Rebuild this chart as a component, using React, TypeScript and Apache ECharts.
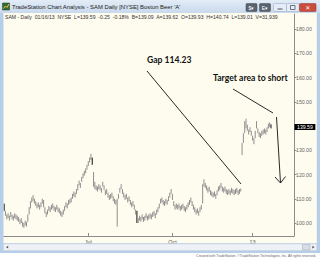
import React, { useEffect, useRef } from "react";
import * as echarts from "echarts";

// Daily bar ranges (low / high), SAM, Apr 2012 – Jan 16 2013
const lows = [
  105, 103, 101.5, 102, 101, 102.5, 101.5, 101, 102, 101.5, 101, 100.5, 99.5, 100, 98.5, 98, 99, 98.5, 100.5, 103.5,
  106, 108.5, 109, 108, 107, 106, 106.5, 105.5, 106.5, 108, 106.5, 104, 102.5, 103.5, 105, 104.5, 105.5, 106, 105, 104.5,
  105.5, 104.5, 104, 103, 102.5, 103.5, 105, 106.5, 106, 107.5, 108, 108.5, 110, 111, 110.5, 112, 113.5, 115.5, 114.5, 117,
  118.5, 119.5, 120.5, 122, 123.5, 125, 126, 124, 115, 114, 113.5, 113, 114, 113.5, 112.5, 115, 113.5, 111.5, 112, 110.5,
  109.5, 110, 110.5, 109, 108, 107.5, 98.5, 110, 112.5, 114, 112, 110.5, 109.5, 110, 108.5, 109, 107.5, 106.5, 107, 105.5,
  103.5, 100, 100, 101, 100.5, 101.5, 100.5, 101, 102, 101, 101.5, 102, 101.5, 102.5, 103, 102, 103.5, 104.5, 106, 108,
  108.5, 107.5, 107, 108, 107.5, 109, 110.5, 112, 109.5, 107, 105.5, 106, 105.5, 106, 105, 105.5, 106, 105, 104.5, 105.5,
  106.5, 107.5, 108.5, 107, 105.5, 104.5, 103.5, 104, 103, 104.5, 105.5, 108, 115, 114.5, 113.5, 112.5, 113, 111.5, 111, 110.5,
  111, 110, 111.5, 113, 113.5, 114.5, 113, 112.5, 113, 112, 111.5, 112, 111.5, 112.5, 112, 111.5, 112, 112.5, 111.5, 112,
  113, 128, 133, 137, 139, 138, 136.5, 137.5, 136, 134, 132.5, 135, 139, 137, 135.5, 135, 136, 136.5, 137, 136.5,
  137.5, 139, 139.5, 139
];
const highs = [
  108, 105, 103.5, 104, 103, 104.5, 103.5, 103, 104, 103.5, 103, 102.5, 101.5, 102, 100.5, 100, 101, 100.5, 103.5, 106.5,
  109, 110.5, 111.5, 110, 109, 108, 108.5, 107.5, 108.5, 110, 109.5, 106.5, 104.5, 105.5, 107, 106.5, 107.5, 108, 107, 106.5,
  107.5, 106.5, 106, 105, 104.5, 105.5, 107, 108.5, 108, 109.5, 110, 110.5, 112, 113, 112.5, 114, 116, 117.5, 116.5, 119,
  120.5, 121.5, 122.5, 124, 125.5, 127, 128.5, 127, 121, 117, 115.5, 115, 116, 115.5, 114.5, 117, 115.5, 113.5, 114, 112.5,
  111.5, 112, 112.5, 111, 110, 109.5, 110, 112, 114.5, 116, 114, 112.5, 111.5, 112, 110.5, 111, 109.5, 108.5, 109, 107.5,
  105.5, 105, 102, 103, 102.5, 103.5, 102.5, 103, 104, 103, 103.5, 104, 103.5, 104.5, 105, 104, 105.5, 106.5, 108, 110,
  110.5, 109.5, 109, 110, 109.5, 111, 112.5, 114, 112, 109, 107.5, 108, 107.5, 108, 107, 107.5, 108, 107, 106.5, 107.5,
  108.5, 109.5, 110.5, 109, 107.5, 106.5, 105.5, 106, 105, 106.5, 107.5, 116, 118, 116.5, 115.5, 114.5, 115, 113.5, 113, 112.5,
  113, 112, 113.5, 115, 115.5, 116.5, 115, 114.5, 115, 114, 113.5, 114, 113.5, 114.5, 114, 113.5, 114, 114.5, 113.5, 114,
  114.23, 133, 137, 142, 143, 140.5, 138.5, 139.5, 138, 136, 135, 138, 142, 139, 137.5, 137, 138, 138.5, 139, 138.5,
  139.5, 141, 141.5, 140.7
];
const blackBars = [0, 67, 101, 203];
const lastPrice = 139.59;

const tickLabels = ["Jul", "Oct", "13"];
const tickIndex = [64, 128, 189];
const slotCount = 221;

const titleText = "TradeStation Chart Analysis - SAM Daily [NYSE] Boston Beer 'A'";
const quoteText =
  "SAM - Daily  01/16/13  NYSE  L=139.59  -0.25  -0.18%  B=139.09  A=139.62  O=139.93  H=140.74  L=139.01  V=31,939";
const footerText = "Created with TradeStation. \u00A9TradeStation Technologies, Inc. All rights reserved.";
const gapText = "Gap 114.23";
const targetText = "Target area to short";

const CREAM = "#FEFCEF";
const FRAME = "#B7CEE9";
const SANS = "'Liberation Sans', Arial, sans-serif";

export default function App() {
  const ref = useRef<HTMLDivElement>(null);

  useEffect(() => {
    document.body.style.margin = "0";
    const chart = echarts.init(ref.current!, null, { renderer: "svg" });

    const xLabels = Array.from({ length: slotCount }, (_, i) => {
      const k = tickIndex.indexOf(i);
      return k >= 0 ? tickLabels[k] : "";
    });
    const barData = lows.map((l, i) => [i, l, highs[i]]);

    const black = "#111";
    const graphics: any[] = [
      { type: "rect", z: 50, shape: { x: 0, y: 0, width: 3.5, height: 253 }, style: { fill: FRAME } },
      { type: "rect", z: 50, shape: { x: 316.8, y: 0, width: 3.2, height: 253 }, style: { fill: FRAME } },
      {
        type: "rect", z: 50, shape: { x: 0, y: 0, width: 320, height: 13 },
        style: {
          fill: { type: "linear", x: 0, y: 0, x2: 0, y2: 1, colorStops: [{ offset: 0, color: "#E3ECF7" }, { offset: 1, color: "#C9D9EC" }] },
        },
      },
      { type: "rect", z: 51, shape: { x: 2.5, y: 3, width: 7, height: 7 }, style: { fill: "#2F6B3A", stroke: "#1D3F22", lineWidth: 0.5 } },
      { type: "polyline", z: 52, shape: { points: [[3.5, 8.5], [5.5, 6], [7, 7.5], [9, 4]] }, style: { stroke: "#F2C230", lineWidth: 1, fill: null } },
      { type: "text", z: 52, style: { x: 12, y: 7, text: titleText, fontSize: 5.9, fontFamily: SANS, fill: "#222", verticalAlign: "middle" } },
      { type: "rect", z: 51, shape: { x: 246, y: 3.5, width: 11, height: 8, r: 1 }, style: { fill: "#59636F", stroke: "#3E454E", lineWidth: 0.5 } },
      { type: "text", z: 52, style: { x: 251.5, y: 7.6, text: "$▾", fontSize: 5, fontFamily: SANS, fill: "#fff", align: "center", verticalAlign: "middle" } },
      { type: "rect", z: 51, shape: { x: 259.5, y: 3.5, width: 11, height: 8, r: 1 }, style: { fill: "#59636F", stroke: "#3E454E", lineWidth: 0.5 } },
      { type: "text", z: 52, style: { x: 265, y: 7.6, text: "E▾", fontSize: 5, fontFamily: SANS, fill: "#fff", align: "center", verticalAlign: "middle" } },
      { type: "rect", z: 51, shape: { x: 273.5, y: 3.5, width: 13, height: 8, r: 1 }, style: { fill: "#E6EDF6", stroke: "#8EA2BC", lineWidth: 0.5 } },
      { type: "line", z: 52, shape: { x1: 277.5, y1: 9, x2: 282.5, y2: 9 }, style: { stroke: "#4A5565", lineWidth: 1 } },
      { type: "rect", z: 51, shape: { x: 286.5, y: 3.5, width: 12.5, height: 8, r: 1 }, style: { fill: "#E6EDF6", stroke: "#8EA2BC", lineWidth: 0.5 } },
      { type: "rect", z: 52, shape: { x: 290.5, y: 5.5, width: 4.5, height: 4 }, style: { fill: null, stroke: "#4A5565", lineWidth: 0.8 } },
      { type: "rect", z: 51, shape: { x: 299.5, y: 3.5, width: 16.5, height: 8, r: 1 }, style: { fill: "#CB4B3D", stroke: "#8E3226", lineWidth: 0.5 } },
      { type: "text", z: 52, style: { x: 307.75, y: 7.7, text: "✕", fontSize: 6, fontFamily: "'DejaVu Sans', sans-serif", fill: "#fff", align: "center", verticalAlign: "middle", fontWeight: "bold" } },
      { type: "text", z: 52, style: { x: 5, y: 16.5, text: quoteText, fontSize: 5.1, fontFamily: SANS, fill: "#333", verticalAlign: "middle" } },
      { type: "rect", z: 50, shape: { x: 0, y: 243.3, width: 320, height: 10 }, style: { fill: FRAME } },
      { type: "rect", z: 51, shape: { x: 3.5, y: 244, width: 313.3, height: 6.5 }, style: { fill: "#EEF1F5", stroke: "#C4D0DE", lineWidth: 0.5 } },
      { type: "polygon", z: 52, shape: { points: [[6, 247.2], [8.2, 245.8], [8.2, 248.6]] }, style: { fill: "#555" } },
      { type: "rect", z: 52, shape: { x: 302.5, y: 244.6, width: 7.5, height: 5.3 }, style: { fill: "#D9DEE6", stroke: "#9FAABA", lineWidth: 0.5 } },
      { type: "polygon", z: 52, shape: { points: [[314.5, 247.2], [312.3, 245.8], [312.3, 248.6]] }, style: { fill: "#555" } },
      { type: "rect", z: 50, shape: { x: 0, y: 253, width: 320, height: 6 }, style: { fill: "#FFFFFF" } },
      { type: "text", z: 52, style: { x: 316, y: 256, text: footerText, fontSize: 3.4, fontFamily: SANS, fill: "#666", align: "right", verticalAlign: "middle" } },
      { type: "text", z: 60, style: { x: 147, y: 60, text: gapText, fontSize: 8.6, fontWeight: "bold", fontFamily: "Lato, 'Open Sans', sans-serif", fill: black, verticalAlign: "middle" } },
      { type: "line", z: 60, shape: { x1: 147, y1: 71, x2: 241, y2: 184 }, style: { stroke: black, lineWidth: 0.9 } },
      { type: "text", z: 60, style: { x: 213, y: 78, text: targetText, fontSize: 8.6, fontWeight: "bold", fontFamily: "Lato, 'Open Sans', sans-serif", fill: black, verticalAlign: "middle" } },
      { type: "line", z: 60, shape: { x1: 233, y1: 89, x2: 273, y2: 113 }, style: { stroke: black, lineWidth: 0.9 } },
      { type: "line", z: 60, shape: { x1: 276.5, y1: 117, x2: 280.5, y2: 183 }, style: { stroke: black, lineWidth: 0.9 } },
      { type: "polyline", z: 60, shape: { points: [[275, 177], [280.5, 183], [285.5, 176.5]] }, style: { stroke: black, lineWidth: 0.9, fill: null } },
    ];

    chart.setOption({
      animation: false,
      backgroundColor: CREAM,
      grid: { left: 3.5, right: 26, top: 14, bottom: 23, containLabel: false },
      xAxis: {
        type: "category",
        data: xLabels,
        boundaryGap: true,
        axisLine: { show: true, lineStyle: { color: "#8C8C8C", width: 1 } },
        axisTick: {
          show: true,
          alignWithLabel: true,
          inside: true,
          length: 3,
          interval: (_: number, v: string) => v !== "",
          lineStyle: { color: "#8C8C8C" },
        },
        axisLabel: {
          interval: (_: number, v: string) => v !== "",
          fontSize: 5.5,
          color: "#555",
          margin: 2.5,
          fontFamily: SANS,
        },
        splitLine: { show: false },
      },
      yAxis: {
        type: "value",
        position: "right",
        min: 94.64,
        max: 186.19,
        splitNumber: 9,
        axisLine: { show: true, lineStyle: { color: "#8C8C8C", width: 1 } },
        axisTick: { show: true, length: 2.5, lineStyle: { color: "#8C8C8C" } },
        axisLabel: {
          fontSize: 5.2,
          color: "#666",
          margin: 2,
          fontFamily: SANS,
          showMinLabel: false,
          showMaxLabel: false,
          formatter: (v: number) => v.toFixed(2),
        },
        splitLine: { show: false },
      },
      series: [
        {
          type: "custom",
          data: barData,
          encode: { x: 0, y: [1, 2] },
          renderItem: (params: any, api: any) => {
            const i = api.value(0);
            const lo = api.coord([i, api.value(1)]);
            const hi = api.coord([i, api.value(2)]);
            const isBlack = blackBars.indexOf(params.dataIndex) >= 0;
            return {
              type: "line",
              shape: { x1: lo[0], y1: lo[1], x2: hi[0], y2: hi[1] },
              style: { stroke: isBlack ? "#111" : "#8E8E8E", lineWidth: 1 },
            };
          },
          markLine: {
            silent: true,
            symbol: "none",
            lineStyle: { width: 0, color: "transparent" },
            label: {
              show: true,
              position: "end",
              distance: 0.5,
              formatter: lastPrice.toFixed(2),
              backgroundColor: "#000",
              color: "#fff",
              fontSize: 5.2,
              fontFamily: SANS,
              padding: [0.5, 2.5],
            },
            data: [{ yAxis: lastPrice }],
          },
        },
      ],
      graphic: graphics,
    });

    return () => chart.dispose();
  }, []);

  return <div ref={ref} style={{ position: "absolute", left: 0, top: 0, width: 320, height: 259 }} />;
}
